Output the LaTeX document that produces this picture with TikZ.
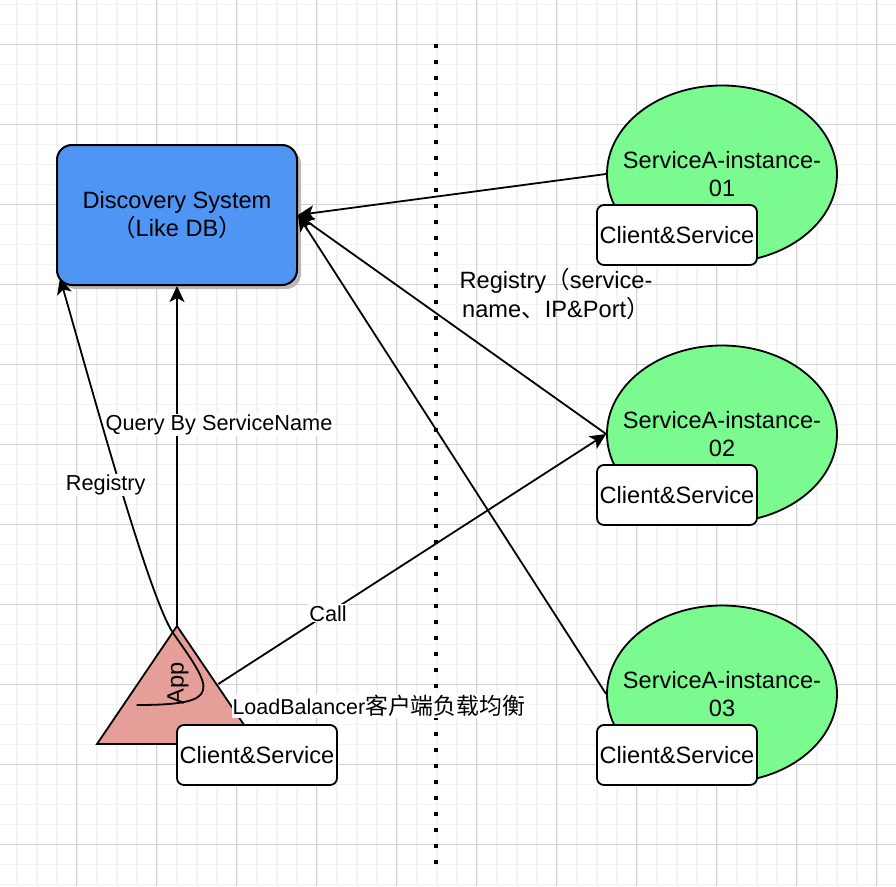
\documentclass[tikz,border=0pt]{standalone}
\usepackage{fontspec}
\setmainfont{Liberation Sans}
\newfontfamily\cjk{Noto Sans CJK SC}
\usetikzlibrary{arrows.meta,shapes.geometric,shadows,calc}
\definecolor{gridminor}{RGB}{243,243,243}
\definecolor{gridmajor}{RGB}{210,210,210}
\definecolor{dsblue}{RGB}{79,149,243}
\definecolor{svgreen}{RGB}{122,250,143}
\definecolor{appred}{RGB}{229,158,152}
\definecolor{shadowgray}{RGB}{185,185,185}
\begin{document}
\begin{tikzpicture}[x=1pt,y=-1pt,
  vfont/.style={font=\fontsize{23.6}{28.6}\selectfont},
  efont/.style={font=\fontsize{21.7}{26}\selectfont},
  conn/.style={line width=1.8pt,-{Stealth[length=16pt,width=15pt,inset=4pt]}},
  elabel/.style={efont,fill=white,inner sep=1pt},
  dsbox/.style={draw,line width=2pt,fill=dsblue,rounded corners=15pt,minimum width=240pt,minimum height=140pt,align=center,vfont,
    drop shadow={shadow xshift=4pt,shadow yshift=-4pt,fill=shadowgray,opacity=1}},
  svell/.style={ellipse,draw,line width=1.8pt,fill=svgreen,minimum width=230pt,minimum height=177pt,inner sep=0pt},
  cbox/.style={draw,line width=1.8pt,fill=white,rounded corners=7pt,minimum width=160pt,minimum height=60pt,inner sep=0pt,vfont},
  dotline/.style={line width=3.8pt,dash pattern=on 4pt off 12pt},
  txt/.style={vfont,align=center,inner sep=0pt}
]
\useasboundingbox (0,0) rectangle (896,886);
\fill[white] (0,0) rectangle (896,886);
% grid
\foreach \x in {16.7,36.7,...,896} \draw[gridminor,line width=1.6pt] (\x,0) -- (\x,886);
\foreach \y in {4.3,24.3,...,886} \draw[gridminor,line width=1.6pt] (0,\y) -- (896,\y);
\foreach \x in {76.7,156.7,...,896} \draw[gridmajor,line width=0.9pt] (\x,0) -- (\x,886);
\foreach \y in {44.3,124.3,...,886} \draw[gridmajor,line width=0.9pt] (0,\y) -- (896,\y);

% divider
\coordinate (dtop) at (436,44);
\coordinate (dbot) at (436,866);
\draw[dotline] (dtop) -- (dbot);

% discovery system
\node[dsbox] (ds) at (177,215) {Discovery System\\{\cjk（}Like DB{\cjk）}};

% services
\node[svell] (s1) at (722,174) {};
\node[txt] (s1t) at (s1.center) {ServiceA-instance-\\01};
\node[svell] (s2) at (722,434) {};
\node[txt] (s2t) at (s2.center) {ServiceA-instance-\\02};
\node[svell] (s3) at (722,694) {};
\node[txt] (s3t) at (s3.center) {ServiceA-instance-\\03};
\node[cbox] (c1) at (677,235) {Client\&Service};
\node[cbox] (c2) at (677,495) {Client\&Service};
\node[cbox] (c3) at (677,755) {Client\&Service};

% app triangle
\coordinate (apex) at (177,626);
\coordinate (appR) at (257,744);
\coordinate (appL) at (97,744);
\draw[line width=1.8pt,fill=appred,line join=miter] (apex) -- (appR) -- (appL) -- cycle;
\node[vfont,rotate=90,inner sep=0pt] (applabel) at (178,683) {App};

% connectors
\draw[conn] (apex) -- (ds.south)
  node[elabel,pos=0.592,xshift=42pt] (qlabel) {Query By ServiceName};
\coordinate (regstart) at (136.7,705);
\coordinate (regend) at ($(ds.south west)+(4,-8)$);
\draw[conn] (regstart) .. controls (225,705) and (213,690) .. (173.3,633.3)
  .. controls (150,600) and (95,400) .. (regend)
  node[elabel,pos=0.51,xshift=-14pt] (rlabel) {Registry};
\coordinate (callstart) at (218.3,684);
\draw[conn] (callstart) -- (s2.west)
  node[elabel,pos=0.283] (clabel) {Call};
\draw[conn] (s1.west) -- (ds.east);
\draw[conn] (s2.west) -- (ds.east);
\draw[conn] (s3.west) -- (ds.east);

% free labels
\node[txt] (reglabel) at (556,294) {Registry{\cjk（}service-\\name{\cjk 、}IP\&Port{\cjk ）}};
\node[font=\fontsize{21.5}{25}\selectfont,fill=white,inner sep=1pt] (lb) at (379,706) {LoadBalancer{\cjk\fontsize{22.9}{27}\selectfont 客户端负载均衡}};
\node[cbox] (c0) at (257,755) {Client\&Service};
\end{tikzpicture}
\end{document}
